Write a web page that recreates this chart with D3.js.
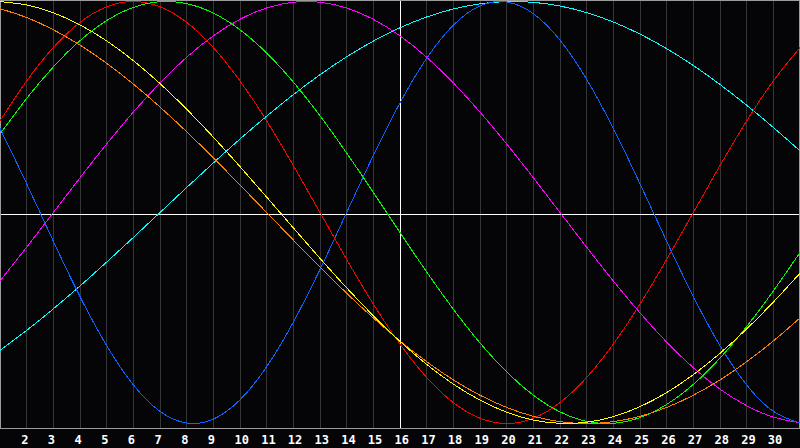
<!DOCTYPE html>
<html><head><meta charset="utf-8">
<script src="https://cdn.jsdelivr.net/npm/d3@7"></script>
<style>html,body{margin:0;padding:0;background:#050508;overflow:hidden}svg{display:block}</style>
</head><body><svg id="c" width="800" height="448"></svg>
<script>
const days = [1,2,3,4,5,6,7,8,9,10,11,12,13,14,15,16,17,18,19,20,21,22,23,24,25,26,27,28,29,30,31];
const tickDays = [2,3,4,5,6,7,8,9,10,11,12,13,14,15,16,17,18,19,20,21,22,23,24,25,26,27,28,29,30];
const today = 16;

// 23-day cycle (blue)
const physical = [0.3984,0.1362,-0.1362,-0.3984,-0.6311,-0.8170,-0.9423,-0.9977,-0.9791,-0.8879,-0.7308,-0.5196,-0.2698,0,0.2698,0.5196,0.7308,0.8879,0.9791,0.9977,0.9423,0.8170,0.6311,0.3984,0.1362,-0.1362,-0.3984,-0.6311,-0.8170,-0.9423,-0.9977];
// 28-day cycle (red)
const emotional = [0.4339,0.6235,0.7818,0.9010,0.9749,1,0.9749,0.9010,0.7818,0.6235,0.4339,0.2225,0,-0.2225,-0.4339,-0.6235,-0.7818,-0.9010,-0.9749,-1,-0.9749,-0.9010,-0.7818,-0.6235,-0.4339,-0.2225,0,0.2225,0.4339,0.6235,0.7818];
// 33-day cycle (green)
const intellectual = [0.3717,0.5406,0.6901,0.8146,0.9096,0.9718,0.9989,0.9898,0.9450,0.8660,0.7557,0.6182,0.4582,0.2817,0.0951,-0.0951,-0.2817,-0.4582,-0.6182,-0.7557,-0.8660,-0.9450,-0.9898,-0.9989,-0.9718,-0.9096,-0.8146,-0.6901,-0.5406,-0.3717,-0.1893];
// 38-day cycle (magenta)
const intuitive = [-0.3247,-0.1646,0,0.1646,0.3247,0.4759,0.6142,0.7357,0.8372,0.9158,0.9694,0.9966,0.9966,0.9694,0.9158,0.8372,0.7357,0.6142,0.4759,0.3247,0.1646,0,-0.1646,-0.3247,-0.4759,-0.6142,-0.7357,-0.8372,-0.9158,-0.9694,-0.9966];
// 43-day cycle (yellow)
const aesthetic = [0.9993,0.9834,0.9465,0.8894,0.8134,0.7199,0.6112,0.4894,0.3572,0.2174,0.0730,-0.0730,-0.2174,-0.3572,-0.4894,-0.6112,-0.7199,-0.8134,-0.8894,-0.9465,-0.9834,-0.9993,-0.9940,-0.9675,-0.9203,-0.8535,-0.7686,-0.6673,-0.5518,-0.4245,-0.2881];
// 48-day cycle (orange)
const awareness = [0.9659,0.9239,0.8660,0.7934,0.7071,0.6088,0.5,0.3827,0.2588,0.1305,0,-0.1305,-0.2588,-0.3827,-0.5,-0.6088,-0.7071,-0.7934,-0.8660,-0.9239,-0.9659,-0.9914,-1,-0.9914,-0.9659,-0.9239,-0.8660,-0.7934,-0.7071,-0.6088,-0.5];
// 53-day cycle (cyan)
const spiritual = [-0.6529,-0.5586,-0.4566,-0.3482,-0.2349,-0.1183,0,0.1183,0.2349,0.3482,0.4566,0.5586,0.6529,0.7379,0.8125,0.8757,0.9267,0.9646,0.9890,0.9996,0.9961,0.9786,0.9473,0.9027,0.8456,0.7765,0.6966,0.6068,0.5085,0.4031,0.2921];

const seriesNames = ["spiritual","intuitive","physical","emotional","intellectual","awareness","aesthetic"];
const seriesValues = [spiritual,intuitive,physical,emotional,intellectual,awareness,aesthetic];
const seriesColors = ["#00ffff","#ff00ff","#0a64ff","#ff0000","#00ff00","#ff8000","#ffff00"];

const svg = d3.select("#c");
const W = 800, H = 448, plotBottom = 428;
const x = d3.scaleLinear().domain([1,31]).range([0,800]);
const y = d3.scaleLinear().domain([-1,1]).range([423.5,1.5]);

svg.append("rect").attr("width",W).attr("height",H).attr("fill","#050508");

// vertical day grid
svg.append("g").selectAll("line").data(tickDays).join("line")
  .attr("x1",d=>Math.floor(x(d))+0.5).attr("x2",d=>Math.floor(x(d))+0.5)
  .attr("y1",0).attr("y2",plotBottom)
  .attr("stroke",d=>d===today?"#ffffff":"#363636").attr("stroke-width",1)
  .attr("shape-rendering","crispEdges");

// horizontal zero line
svg.append("line").attr("x1",0).attr("x2",W).attr("y1",214.5).attr("y2",214.5)
  .attr("stroke","#ffffff").attr("shape-rendering","crispEdges");

// frame
svg.append("rect").attr("x",0.5).attr("y",0.5).attr("width",W-1).attr("height",plotBottom)
  .attr("fill","none").attr("stroke","#9c9c9c").attr("shape-rendering","crispEdges");

// today line on top of horizontal
svg.append("line").attr("x1",Math.floor(x(today))+0.5).attr("x2",Math.floor(x(today))+0.5)
  .attr("y1",1).attr("y2",plotBottom).attr("stroke","#ffffff").attr("shape-rendering","crispEdges");

const line = d3.line().x((d,i)=>x(days[i])).y(d=>y(d)).curve(d3.curveNatural);
svg.append("g").selectAll("path").data(seriesValues).join("path")
  .attr("d",d=>line(d)).attr("fill","none")
  .attr("stroke",(d,i)=>seriesColors[i]).attr("stroke-width",1)
  .attr("shape-rendering","crispEdges");

// day labels
const axis = d3.axisBottom(x).tickValues(tickDays).tickSize(0).tickPadding(0).tickFormat(d3.format("d"));
const ag = svg.append("g").attr("transform","translate(0,444)").call(axis);
ag.select(".domain").remove();
ag.selectAll("text").attr("y",0).attr("dy",0).attr("x",-6)
  .attr("text-anchor","start").attr("fill","#ffffff")
  .style("font-family","'DejaVu Sans Mono', monospace").style("font-weight","bold").style("font-size","12px");
</script></body></html>
